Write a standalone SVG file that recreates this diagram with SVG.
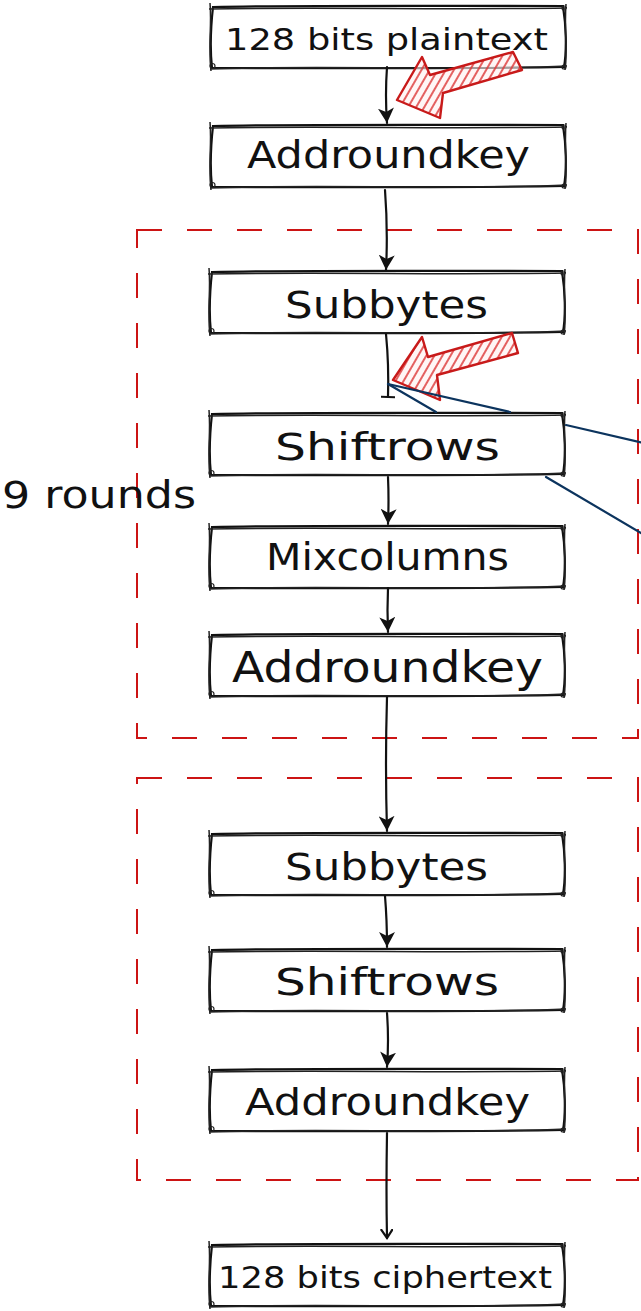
<svg xmlns="http://www.w3.org/2000/svg" xmlns:xlink="http://www.w3.org/1999/xlink" width="641" height="1311" viewBox="0 0 641 1311">
  <style>
    .label { font-family: "DejaVu Sans", "Liberation Sans", sans-serif; fill: #111111; }
    .frame { fill: none; stroke: #cc1414; stroke-width: 2; stroke-dasharray: 25 25; }
    .edge { fill: none; stroke: #111111; stroke-width: 2.2; stroke-linecap: round; }
    .link { fill: none; stroke: #0c345e; stroke-width: 2.2; stroke-linecap: round; }
    .callout { fill: url(#redHatch); stroke: #c81a1a; stroke-width: 2.4; stroke-linejoin: round; }
  </style>
  <defs>
    <!-- hand-drawn process box, 356 x 64 -->
    <g id="sketchBox">
      <path d="M3,2 C90,0 270,1 353,1 C356,20 357,45 354,62 C260,64 100,63 2,63 C0,45 1,20 3,2 Z" fill="#ffffff" stroke="#111111" stroke-width="2.2"/>
      <path d="M-1,4 C100,2 250,5 357,3 M356,-1 C354,25 358,45 355,65 M357,61 C250,66 100,60 0,64 M1,66 C-2,40 2,20 0,-2" fill="none" stroke="#222222" stroke-width="1.5"/>
      <circle cx="2.5" cy="61" r="2.5" fill="none" stroke="#222222" stroke-width="1.2"/>
      <circle cx="354" cy="3" r="2" fill="none" stroke="#222222" stroke-width="1.2"/>
      <circle cx="354" cy="62" r="2" fill="none" stroke="#222222" stroke-width="1.2"/>
    </g>
    <marker id="arrow" markerUnits="userSpaceOnUse" markerWidth="18" markerHeight="16" refX="15" refY="8" orient="auto">
      <path d="M0,0 L15,8 L0,16 L4,8 Z" fill="#111111"/>
    </marker>
    <marker id="arrowSmall" markerUnits="userSpaceOnUse" markerWidth="12" markerHeight="14" refX="9" refY="6" orient="auto">
      <path d="M0,0 L9,6 L0,12" fill="none" stroke="#111111" stroke-width="2.2"/>
    </marker>
    <marker id="tee" markerUnits="userSpaceOnUse" markerWidth="4" markerHeight="14" refX="2" refY="7" orient="auto">
      <path d="M2,0 L2,14" stroke="#111111" stroke-width="2"/>
    </marker>
    <pattern id="redHatch" patternUnits="userSpaceOnUse" width="7" height="7" patternTransform="rotate(30)">
      <rect width="7" height="7" fill="#fff0f0" fill-opacity="0.6"/>
      <line x1="1" y1="0" x2="1" y2="7" stroke="#dd3a3a" stroke-width="1.6"/>
    </pattern>
  </defs>

  <!-- round frames -->
  <g id="frames">
    <rect class="frame" x="137" y="230" width="501" height="508"/>
    <rect class="frame" x="137" y="778" width="501" height="402"/>
  </g>

  <g id="label-rounds">
    <text class="label" x="2" y="508" font-size="37" textLength="194" lengthAdjust="spacingAndGlyphs">9 rounds</text>
  </g>

  <g id="plaintext">
    <use xlink:href="#sketchBox" x="210" y="5"/>
    <text class="label" x="225" y="50" font-size="31" textLength="323" lengthAdjust="spacingAndGlyphs">128 bits plaintext</text>
  </g>
  <g id="addroundkey-initial">
    <use xlink:href="#sketchBox" x="210" y="124"/>
    <text class="label" x="247" y="168" font-size="37" textLength="283" lengthAdjust="spacingAndGlyphs">Addroundkey</text>
  </g>
  <g id="subbytes-round">
    <use xlink:href="#sketchBox" x="209" y="270"/>
    <text class="label" x="285" y="318" font-size="37" textLength="203" lengthAdjust="spacingAndGlyphs">Subbytes</text>
  </g>
  <g id="shiftrows-round">
    <use xlink:href="#sketchBox" x="209" y="412"/>
    <text class="label" x="275" y="460" font-size="37" textLength="225" lengthAdjust="spacingAndGlyphs">Shiftrows</text>
  </g>
  <g id="mixcolumns-round">
    <use xlink:href="#sketchBox" x="209" y="525"/>
    <text class="label" x="266" y="570" font-size="37" textLength="243" lengthAdjust="spacingAndGlyphs">Mixcolumns</text>
  </g>
  <g id="addroundkey-round">
    <use xlink:href="#sketchBox" x="209" y="633"/>
    <text class="label" x="232" y="682" font-size="43" textLength="311" lengthAdjust="spacingAndGlyphs">Addroundkey</text>
  </g>
  <g id="subbytes-final">
    <use xlink:href="#sketchBox" x="209" y="832"/>
    <text class="label" x="285" y="880" font-size="37" textLength="203" lengthAdjust="spacingAndGlyphs">Subbytes</text>
  </g>
  <g id="shiftrows-final">
    <use xlink:href="#sketchBox" x="209" y="948"/>
    <text class="label" x="275" y="995" font-size="37" textLength="224" lengthAdjust="spacingAndGlyphs">Shiftrows</text>
  </g>
  <g id="addroundkey-final">
    <use xlink:href="#sketchBox" x="209" y="1068"/>
    <text class="label" x="245" y="1115" font-size="38" textLength="285" lengthAdjust="spacingAndGlyphs">Addroundkey</text>
  </g>
  <g id="ciphertext">
    <use xlink:href="#sketchBox" x="209" y="1243"/>
    <text class="label" x="218" y="1288" font-size="31" textLength="334" lengthAdjust="spacingAndGlyphs">128 bits ciphertext</text>
  </g>

  <!-- red hatched pointers -->
  <g id="pointers">
    <polygon class="callout" points="397,100 422,57 430,75 513,52 522,70 443,93 440,118"/>
    <polygon class="callout" points="393,380 422,337 428,357 512,333 518,353 437,375 440,400"/>
  </g>

  <g id="connectors">
    <path class="edge" d="M387,67 Q385,95 387,123" marker-end="url(#arrow)"/>
    <path class="edge" d="M385,190 Q388,230 386,270" marker-end="url(#arrow)"/>
    <path class="edge" d="M386,334 Q389,365 388,397" marker-end="url(#tee)"/>
    <path class="edge" d="M388,477 Q389,500 388,524" marker-end="url(#arrow)"/>
    <path class="edge" d="M388,588 Q387,610 388,632" marker-end="url(#arrow)"/>
    <path class="edge" d="M387,697 Q385,765 387,831" marker-end="url(#arrow)"/>
    <path class="edge" d="M385,896 Q387,920 387,947" marker-end="url(#arrow)"/>
    <path class="edge" d="M387,1013 Q389,1040 387,1067" marker-end="url(#arrow)"/>
    <path class="edge" d="M387,1133 Q386,1190 387,1238" marker-end="url(#arrowSmall)"/>
    <!-- outgoing links, hidden behind the Shiftrows box -->
    <path class="link" d="M388,384 L510,412 M566,425 L641,442.5"/>
    <path class="link" d="M388,384 L436,412 M546,477 L641,533"/>
  </g>
</svg>
